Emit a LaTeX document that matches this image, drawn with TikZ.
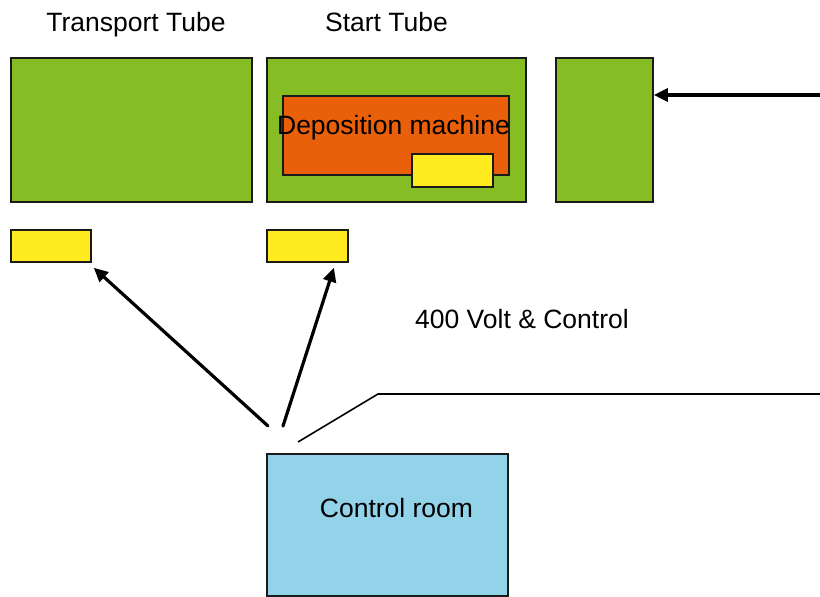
\documentclass[tikz,border=0pt]{standalone}
\usepackage{fontspec}
\setmainfont{Liberation Sans}
\usetikzlibrary{arrows.meta,calc}
\definecolor{tubegreen}{HTML}{86BC24}
\definecolor{machorange}{HTML}{E95F0A}
\definecolor{unityellow}{HTML}{FFEB1F}
\definecolor{roomblue}{HTML}{92D3EA}
\definecolor{edge}{HTML}{1A1A1A}
\begin{document}
\begin{tikzpicture}[x=1pt,y=-1pt,
  box/.style={draw=edge,line width=1.8pt,rectangle,inner sep=0pt,anchor=north west},
  lbl/.style={inner sep=0pt,anchor=base,font=\fontsize{26.5}{30}\selectfont},
  arr/.style={line width=3.2pt,line cap=round,-{Triangle[length=14pt,width=13pt]}},
  wire/.style={line width=1.6pt}]
\useasboundingbox (0,0) rectangle (820,597);
% tubes
\node[box,fill=tubegreen,minimum width=241pt,minimum height=144pt] (tt) at (10,57) {};
\node[box,fill=tubegreen,minimum width=259pt,minimum height=144pt] (st) at (266,57) {};
\node[box,fill=tubegreen,minimum width=97pt,minimum height=144pt] (rb) at (555,57) {};
% deposition machine
\node[box,fill=machorange,minimum width=226pt,minimum height=79pt] (dm) at (282,95) {};
\node[box,fill=unityellow,minimum width=81pt,minimum height=33pt] (dy) at (411,153) {};
\node[lbl] (dmt) at (393.5,134) {Deposition machine};
% yellow units
\node[box,fill=unityellow,minimum width=80pt,minimum height=32pt] (y1) at (10,229) {};
\node[box,fill=unityellow,minimum width=81pt,minimum height=32pt] (y2) at (266,229) {};
% control room
\node[box,fill=roomblue,minimum width=241pt,minimum height=142pt] (cr) at (266,453) {};
\node[lbl] (crt) at (396.5,517) {Control room};
% labels
\node[lbl] (ttl) at (136,31) {Transport Tube};
\node[lbl] (stl) at (386.5,31) {Start Tube};
\node[lbl] (vl) at (522,328) {400 Volt \& Control};
% connectors
\coordinate (a1) at (268,426);
\coordinate (a2) at (283,426);
\coordinate (w0) at (298,442);
\coordinate (w1) at (378,394);
\coordinate (w2) at (820,394);
\coordinate (r0) at (820,95);
\draw[arr] (a1) -- ($(y1.south east)+(2,5)$);
\draw[arr] (a2) -- ($(y2.south)+(26.5,5)$);
\draw[arr] (r0) -- ($(rb.north east)+(0,38)$);
\draw[wire] (w0) -- (w1) -- (w2);
\end{tikzpicture}
\end{document}
